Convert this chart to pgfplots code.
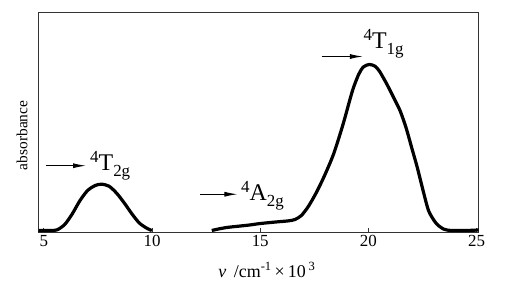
\documentclass[border=0pt]{standalone}
\usepackage{fontspec}
\setmainfont{Liberation Serif}
\usepackage{pgfplots}
\pgfplotsset{compat=1.18}
\usetikzlibrary{arrows.meta}
\newcommand{\lvl}[3]{{\fontsize{24}{24}\selectfont\raisebox{8bp}{\fontsize{17}{17}\selectfont #1}#2\raisebox{-6bp}{\fontsize{17}{17}\selectfont #3}}}
\begin{document}
\begin{tikzpicture}
\begin{axis}[
  name=ax,
  scale only axis,
  width=440.2bp, height=219.5bp,
  xmin=4.75, xmax=25.1, ymin=-0.009, ymax=1.313,
  xtick={5,10,15,20,25},
  ytick=\empty,
  xtick pos=lower,
  tick align=inside,
  major tick length=4bp,
  axis line style={line width=0.9bp, black!80},
  tick style={line width=0.9bp, black!80},
  /pgf/number format/assume math mode=true,
  ticklabel style={font=\fontsize{17}{18}\selectfont},
  xlabel={\textit{ν}\, /cm\textsuperscript{-1}\,×\,10\,\textsuperscript{3}},
  xlabel style={at={(rel axis cs:0.519,0)}, anchor=center, yshift=-38bp, font=\fontsize{18}{19}\selectfont},
  ylabel={absorbance},
  ylabel style={at={(rel axis cs:-0.0375,0.44)}, anchor=center, font=\fontsize{15.5}{16}\selectfont},
]
\addplot[line width=3.2bp, black, smooth, tension=0.45] coordinates {
(4.75,0) (5.3,0) (5.61,0.004) (5.96,0.036) (6.31,0.100) (6.67,0.181) (7.02,0.241)
(7.37,0.271) (7.66,0.279) (8.01,0.267) (8.36,0.225) (8.72,0.165) (9.07,0.100)
(9.42,0.044) (9.78,0.012) (9.99,0)
};
\addplot[line width=3.2bp, black, smooth, tension=0.45] coordinates {
(12.76,0) (13.1,0.010) (13.5,0.019) (14.0,0.026) (14.5,0.033) (15.0,0.042)
(15.78,0.052) (16.3,0.058) (16.6,0.066) (16.9,0.090) (17.23,0.146) (17.6,0.230)
(17.96,0.327) (18.39,0.46) (18.83,0.64) (19.26,0.84) (19.55,0.94) (19.77,0.985)
(20.04,1.0) (20.3,0.99) (20.51,0.96) (20.86,0.88) (21.21,0.79) (21.47,0.72)
(21.74,0.62) (22.0,0.50) (22.26,0.38) (22.53,0.24) (22.79,0.117) (23.14,0.042)
(23.49,0.008) (23.84,0) (24.5,0) (25.1,0.003)
};
\draw[-{Latex[length=13bp,width=5bp]}, line width=1bp] (rel axis cs:0.017,0.302) -- (rel axis cs:0.108,0.302);
\node[anchor=base west, inner sep=0] at (rel axis cs:0.117,0.279) {\lvl{4}{T}{2g}};
\draw[-{Latex[length=13bp,width=5bp]}, line width=1bp] (rel axis cs:0.367,0.172) -- (rel axis cs:0.452,0.172);
\node[anchor=base west, inner sep=0] at (rel axis cs:0.460,0.143) {\lvl{4}{A}{2g}};
\draw[-{Latex[length=13bp,width=5bp]}, line width=1bp] (rel axis cs:0.643,0.7995) -- (rel axis cs:0.737,0.7995);
\node[anchor=base west, inner sep=0] at (rel axis cs:0.738,0.837) {\lvl{4}{T}{1g}};
\end{axis}
\pgfresetboundingbox
\path[use as bounding box] ([shift={(-38.5bp,-50bp)}]ax.south west) rectangle ++(520bp,282bp);
\end{tikzpicture}
\end{document}
